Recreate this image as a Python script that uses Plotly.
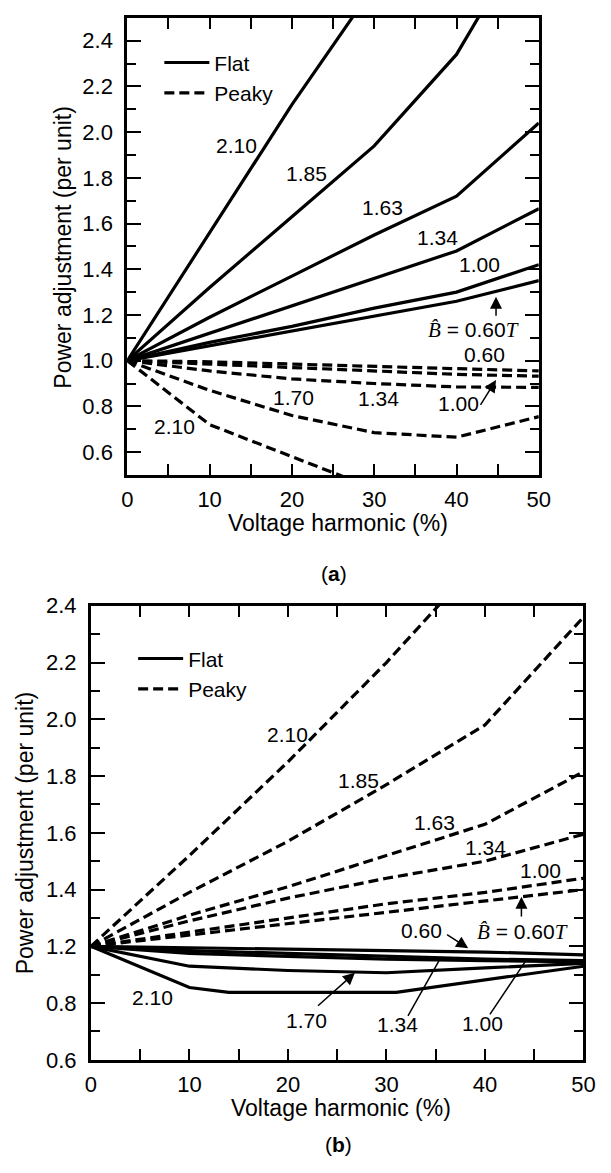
import plotly.graph_objects as go

W, H = 611, 1173

# ---------------- data ----------------
harmonic = [0, 10, 20, 30, 40, 50]

# panel (a)
a_flat_060 = [1.0, 1.065, 1.13, 1.195, 1.26, 1.35]
a_flat_100 = [1.0, 1.08, 1.15, 1.23, 1.30, 1.42]
a_flat_134 = [1.0, 1.12, 1.24, 1.36, 1.48, 1.665]
a_flat_163 = [1.0, 1.19, 1.37, 1.55, 1.72, 2.04]
a_flat_185 = [1.0, 1.32, 1.63, 1.94, 2.34, 2.95]
a_flat_210_x = [0, 10, 20, 30]
a_flat_210 = [1.0, 1.56, 2.12, 2.64]

a_peaky_060 = [1.0, 0.995, 0.985, 0.975, 0.965, 0.955]
a_peaky_100 = [1.0, 0.985, 0.97, 0.955, 0.94, 0.932]
a_peaky_134 = [1.0, 0.955, 0.92, 0.90, 0.885, 0.883]
a_peaky_170 = [1.0, 0.87, 0.76, 0.685, 0.665, 0.755]
a_peaky_210_x = [0, 10, 20, 30]
a_peaky_210 = [1.0, 0.72, 0.58, 0.44]

# panel (b)
b_peaky_210_x = [0, 10, 20, 30, 40]
b_peaky_210 = [1.2, 1.52, 1.85, 2.20, 2.58]
b_peaky_185 = [1.2, 1.39, 1.57, 1.77, 1.98, 2.36]
b_peaky_163 = [1.2, 1.31, 1.41, 1.52, 1.63, 1.815]
b_peaky_134 = [1.2, 1.29, 1.37, 1.44, 1.50, 1.595]
b_peaky_100 = [1.2, 1.25, 1.30, 1.35, 1.39, 1.44]
b_peaky_060 = [1.2, 1.24, 1.28, 1.32, 1.36, 1.40]

b_flat_060 = [1.2, 1.195, 1.19, 1.185, 1.18, 1.17]
b_flat_100 = [1.2, 1.185, 1.175, 1.165, 1.155, 1.15]
b_flat_134 = [1.2, 1.175, 1.165, 1.155, 1.15, 1.145]
b_flat_170 = [1.2, 1.13, 1.115, 1.107, 1.124, 1.14]
b_flat_210_x = [0, 10, 14, 31, 50]
b_flat_210 = [1.2, 1.055, 1.038, 1.038, 1.13]

x_ticks = [0, 10, 20, 30, 40, 50]
a_y_ticks = [0.6, 0.8, 1.0, 1.2, 1.4, 1.6, 1.8, 2.0, 2.2, 2.4]
a_y_labels = ["0.6", "0.8", "1.0", "1.2", "1.4", "1.6", "1.8", "2.0", "2.2", "2.4"]
b_y_ticks = [0.8, 1.0, 1.2, 1.4, 1.6, 1.8, 2.0, 2.2, 2.4]
b_y_labels = ["0.6", "0.8", "1.2", "1.4", "1.6", "1.8", "2.0", "2.2", "2.4"]

# ---------------- figure ----------------
FONT = "Liberation Sans, Arial, Helvetica, sans-serif"
LW = 3.2
DASH = "10px,5px"
TICKSZ = 22
LBLSZ = 21
TITLESZ = 23

fig = go.Figure()


def add_line(x, y, dash, xa, ya, name=None, legend=None):
    fig.add_trace(go.Scatter(
        x=x, y=y, mode="lines", xaxis=xa, yaxis=ya,
        line=dict(color="black", width=LW, dash=dash),
        name=name if name else "", showlegend=name is not None,
        legend=legend if legend else "legend", hoverinfo="skip"))


# panel (a)
add_line(harmonic, a_flat_060, "solid", "x", "y", "Flat", "legend")
for ys in [a_flat_100, a_flat_134, a_flat_163, a_flat_185]:
    add_line(harmonic, ys, "solid", "x", "y")
add_line(a_flat_210_x, a_flat_210, "solid", "x", "y")
add_line(harmonic, a_peaky_060, DASH, "x", "y", "Peaky", "legend")
for ys in [a_peaky_100, a_peaky_134, a_peaky_170]:
    add_line(harmonic, ys, DASH, "x", "y")
add_line(a_peaky_210_x, a_peaky_210, DASH, "x", "y")

# panel (b)
add_line(harmonic, b_flat_060, "solid", "x2", "y2", "Flat", "legend2")
for ys in [b_flat_100, b_flat_134, b_flat_170]:
    add_line(harmonic, ys, "solid", "x2", "y2")
add_line(b_flat_210_x, b_flat_210, "solid", "x2", "y2")
add_line(harmonic, b_peaky_060, DASH, "x2", "y2", "Peaky", "legend2")
for ys in [b_peaky_100, b_peaky_134, b_peaky_163, b_peaky_185]:
    add_line(harmonic, ys, DASH, "x2", "y2")
add_line(b_peaky_210_x, b_peaky_210, DASH, "x2", "y2")


def px_dom(a, b, total):
    return [a / total, b / total]


def py_dom(top, bottom):
    return [1 - bottom / H, 1 - top / H]


common = dict(
    showline=True, linecolor="black", linewidth=3, mirror="allticks",
    ticks="inside", tickwidth=2, tickcolor="black",
    showgrid=False, zeroline=False,
    tickfont=dict(size=TICKSZ, color="black", family=FONT),
)

xcommon = dict(common, range=[0, 50], tickvals=x_ticks, ticklen=11,
               ticklabelstandoff=3,
               minor=dict(ticks="inside", dtick=5, tick0=0, ticklen=11,
                          tickwidth=2, tickcolor="black", showgrid=False))

fig.update_layout(
    width=W, height=H,
    margin=dict(l=0, r=0, t=0, b=0),
    paper_bgcolor="white", plot_bgcolor="white",
    font=dict(family=FONT, color="black"),
    xaxis=dict(xcommon, domain=px_dom(125, 549, W), anchor="y"),
    yaxis=dict(common, domain=py_dom(6, 473), anchor="x", range=[0.5, 2.5],
               tickvals=a_y_ticks, ticktext=a_y_labels, ticklen=14,
               ticklabelstandoff=7,
               minor=dict(ticks="inside", dtick=0.1, tick0=0.5, ticklen=9,
                          tickwidth=2, tickcolor="black", showgrid=False)),
    xaxis2=dict(xcommon, domain=px_dom(87.5, 595, W), anchor="y2"),
    yaxis2=dict(common, domain=py_dom(606.7, 1070.7), anchor="x2", range=[0.8, 2.4],
                tickvals=b_y_ticks, ticktext=b_y_labels, ticklen=14,
                ticklabelstandoff=7,
                minor=dict(ticks="inside", dtick=0.1, tick0=0.8, ticklen=9,
                           tickwidth=2, tickcolor="black", showgrid=False)),
    legend=dict(x=158 / W, y=1 - 31 / H, xanchor="left", yanchor="top",
                bgcolor="rgba(0,0,0,0)", font=dict(size=LBLSZ, family=FONT, color="black"),
                tracegroupgap=0, itemwidth=45),
    legend2=dict(x=131 / W, y=1 - 640 / H, xanchor="left", yanchor="top",
                 bgcolor="rgba(0,0,0,0)", font=dict(size=LBLSZ, family=FONT, color="black"),
                 tracegroupgap=0, itemwidth=45),
)

ann = []


def label(text, x, y, xr, yr, size=LBLSZ, angle=0):
    ann.append(dict(text=text, x=x, y=y, xref=xr, yref=yr, showarrow=False,
                    font=dict(size=size, family=FONT, color="black"),
                    textangle=angle, xanchor="center", yanchor="middle"))


def arrow(x, y, ax, ay, xr, yr, head=2):
    ann.append(dict(text="", x=x, y=y, ax=ax, ay=ay, xref=xr, yref=yr,
                    axref=xr, ayref=yr, showarrow=True, arrowhead=head,
                    arrowsize=1.6, arrowwidth=1.5, arrowcolor="black", standoff=0,
                    startstandoff=0))


BHAT = ("<span style='font-family:Liberation Serif'><i>B̂</i></span> = 0.60"
        "<span style='font-family:Liberation Serif'><i>T</i></span>")

# panel (a) labels
label("2.10", 13.3, 1.94, "x", "y")
label("1.85", 21.8, 1.82, "x", "y")
label("1.63", 31.0, 1.67, "x", "y")
label("1.34", 37.7, 1.54, "x", "y")
label("1.00", 42.8, 1.42, "x", "y")
label(BHAT, 42.1, 1.134, "x", "y")
arrow(44.8, 1.28, 44.8, 1.19, "x", "y")
label("0.60", 43.4, 1.027, "x", "y")
label("1.70", 20.2, 0.84, "x", "y")
label("1.34", 30.5, 0.833, "x", "y")
label("1.00", 40.3, 0.812, "x", "y")
arrow(44.8, 0.915, 42.8, 0.80, "x", "y")
label("2.10", 5.7, 0.71, "x", "y")

# panel (b) labels
label("2.10", 19.95, 1.946, "x2", "y2")
label("1.85", 27.2, 1.785, "x2", "y2")
label("1.63", 34.9, 1.636, "x2", "y2")
label("1.34", 40.1, 1.55, "x2", "y2")
label("1.00", 45.6, 1.469, "x2", "y2")
label(BHAT, 43.8, 1.251, "x2", "y2")
arrow(43.7, 1.375, 43.7, 1.30, "x2", "y2")
label("0.60", 33.6, 1.257, "x2", "y2")
arrow(38.3, 1.193, 36.0, 1.245, "x2", "y2")
label("2.10", 6.2, 1.021, "x2", "y2")
label("1.70", 21.9, 0.94, "x2", "y2")
arrow(26.8, 1.107, 22.9, 0.986, "x2", "y2")
label("1.34", 31.1, 0.923, "x2", "y2")
arrow(35.4, 1.153, 32.1, 0.95, "x2", "y2", head=0)
label("1.00", 39.7, 0.929, "x2", "y2")
arrow(44.1, 1.147, 40.4, 0.955, "x2", "y2", head=0)

# axis titles and panel captions
label("Voltage harmonic (%)", 342 / W, 1 - 521.7 / H, "paper", "paper", TITLESZ)
label("Voltage harmonic (%)", 345 / W, 1 - 1120 / H, "paper", "paper", TITLESZ)
label("Power adjustment (per unit)", 58.5 / W, 1 - 240 / H, "paper", "paper", TITLESZ, -90)
label("Power adjustment (per unit)", 19 / W, 1 - 838.7 / H, "paper", "paper", TITLESZ, -90)
label("(<b>a</b>)", 338 / W, 1 - 574 / H, "paper", "paper", 21)
label("(<b>b</b>)", 343 / W, 1 - 1157 / H, "paper", "paper", 21)

fig.update_layout(annotations=ann)

fig.write_html("out.html")
